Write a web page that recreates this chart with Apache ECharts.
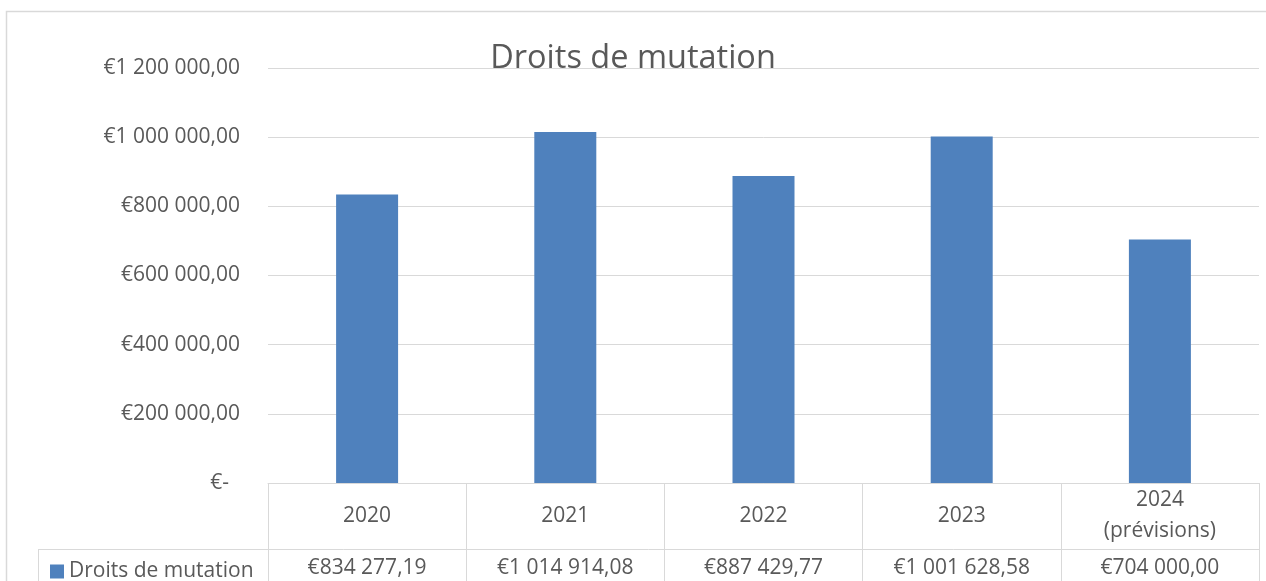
<!DOCTYPE html>
<html><head><meta charset="utf-8">
<script src="https://cdn.jsdelivr.net/npm/echarts@6/dist/echarts.min.js"></script>
<style>html,body{margin:0;padding:0;background:#fff}#c{width:1266px;height:581px}</style>
</head><body><div id="c"></div>
<script>
const title = 'Droits de mutation';
const seriesName = 'Droits de mutation';
const categories = ['2020', '2021', '2022', '2023', '2024\n(prévisions)'];
const values = [834277.19, 1014914.08, 887429.77, 1001628.58, 704000.00];
const yMin = 0, yMax = 1200000, yStep = 200000;

function fmtEuro(v) {
  if (v === 0) return '€-';
  const parts = v.toFixed(2).split('.');
  const intPart = parts[0].replace(/\B(?=(\d{3})+(?!\d))/g, ' ');
  return '€' + intPart + ',' + parts[1];
}

const FONT = 'Open Sans';
const FS = 21;
const TXT = '#595959';
const GRID = '#d9d9d9';
const chart = echarts.init(document.getElementById('c'), null, {renderer: 'canvas'});
chart.setOption({
  animation: false,
  backgroundColor: '#fff',
  title: {
    text: title, left: 'center', top: 37,
    textStyle: {fontFamily: FONT, fontSize: 32.5, fontWeight: 'normal', color: TXT}
  },
  legend: {
    left: 45, top: 556, icon: 'rect', itemWidth: 14, itemHeight: 14, itemGap: 6,
    textStyle: {fontFamily: FONT, fontSize: FS, color: TXT}, data: [seriesName]
  },
  grid: {left: 268, right: 7, top: 68, bottom: 98, containLabel: false},
  xAxis: [{
    type: 'category', data: categories, position: 'bottom',
    axisLine: {show: true, lineStyle: {color: GRID, width: 1}},
    axisTick: {show: true, inside: false, length: 98, lineStyle: {color: GRID, width: 1}},
    axisLabel: {margin: 33, verticalAlign: 'middle', lineHeight: 31,
      fontFamily: FONT, fontSize: FS, color: TXT, interval: 0}
  }, {
    type: 'category', data: values.map(fmtEuro), position: 'bottom',
    axisLine: {show: false}, axisTick: {show: false},
    axisLabel: {margin: 85, verticalAlign: 'middle',
      fontFamily: FONT, fontSize: FS, color: TXT, interval: 0}
  }],
  yAxis: {
    type: 'value', min: yMin, max: yMax, interval: yStep,
    axisLine: {show: false}, axisTick: {show: false},
    splitLine: {show: true, lineStyle: {color: GRID, width: 1}},
    axisLabel: {
      margin: 28, fontFamily: FONT, fontSize: FS, color: TXT,
      formatter: v => v === 0 ? '{z|€-}' : fmtEuro(v),
      rich: {z: {fontFamily: FONT, fontSize: FS, color: TXT, padding: [0, 11, 0, 0]}}
    }
  },
  series: [{
    name: seriesName, type: 'bar', data: values, barWidth: 62,
    itemStyle: {color: '#4f81bd'}
  }],
  graphic: [
    {type: 'rect', silent: true, shape: {x: 6.5, y: 11.5, width: 1300, height: 700},
     style: {fill: 'none', stroke: GRID, lineWidth: 1.5}, z: -1},
    {type: 'line', silent: true, shape: {x1: 38, y1: 549.5, x2: 1259, y2: 549.5},
     style: {stroke: GRID, lineWidth: 1}},
    {type: 'line', silent: true, shape: {x1: 38.5, y1: 549, x2: 38.5, y2: 590},
     style: {stroke: GRID, lineWidth: 1}}
  ]
});
</script></body></html>
